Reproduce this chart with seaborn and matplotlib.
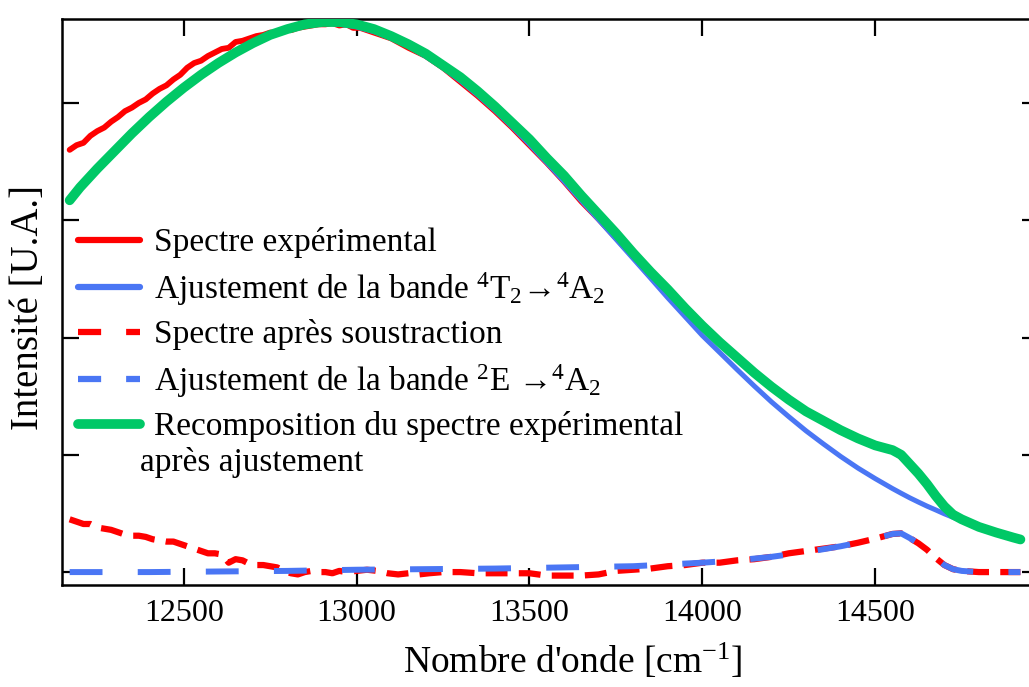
import numpy as np
import matplotlib
matplotlib.use('Agg')
import matplotlib.pyplot as plt
from matplotlib.lines import Line2D
import seaborn as sns

# ajustement de la bande 4T2 -> 4A2 (et recomposition), pas de 50 cm-1
x_fit = [12170, 12200, 12250, 12300, 12350, 12400, 12450, 12500, 12550, 12600,
         12650, 12700, 12750, 12800, 12850, 12900, 12950, 13000, 13050, 13100,
         13150, 13200, 13250, 13300, 13350, 13400, 13450, 13500, 13550, 13600,
         13650, 13700, 13750, 13800, 13850, 13900, 13950, 14000, 14050, 14100,
         14150, 14200, 14250, 14300, 14350, 14400, 14450, 14500, 14550, 14575,
         14600, 14625, 14650, 14675, 14700, 14725, 14750, 14800, 14850, 14900, 14920]
y_t2 = [3.17, 3.28, 3.44, 3.59, 3.74, 3.88, 4.01, 4.13, 4.24, 4.34,
        4.43, 4.51, 4.57, 4.62, 4.66, 4.68, 4.672, 4.648, 4.608, 4.552,
        4.482, 4.397, 4.299, 4.189, 4.068, 3.937, 3.796, 3.647, 3.491, 3.331,
        3.167, 3.004, 2.839, 2.673, 2.507, 2.339, 2.178, 2.017, 1.873, 1.728,
        1.587, 1.451, 1.325, 1.204, 1.093, 0.986, 0.887, 0.797, 0.712, 0.672,
        0.633, 0.597, 0.562, 0.53, 0.497, 0.467, 0.438, 0.385, 0.337, 0.294, 0.278]
y_recomp = [3.17, 3.28, 3.44, 3.59, 3.74, 3.88, 4.01, 4.13, 4.24, 4.34,
            4.43, 4.51, 4.58, 4.63, 4.67, 4.69, 4.69, 4.67, 4.63, 4.57,
            4.50, 4.42, 4.32, 4.22, 4.10, 3.97, 3.83, 3.69, 3.53, 3.38,
            3.21, 3.05, 2.89, 2.72, 2.56, 2.41, 2.25, 2.10, 1.96, 1.83,
            1.70, 1.58, 1.47, 1.37, 1.29, 1.21, 1.14, 1.08, 1.04, 1.00,
            0.92, 0.84, 0.75, 0.65, 0.56, 0.49, 0.45, 0.385, 0.337, 0.294, 0.278]

# spectre experimental
x_exp = [12170, 12190, 12210, 12230, 12250, 12270, 12290, 12310, 12330, 12350,
         12370, 12390, 12410, 12430, 12450, 12470, 12490, 12510, 12530, 12550,
         12570, 12590, 12610, 12630, 12650, 12670, 12690, 12710, 12730, 12750,
         12770, 12790, 12810, 12830, 12850, 12870, 12890, 12910, 12930, 12950,
         12970, 12990, 13010, 13050, 13100, 13150, 13200, 13250, 13300, 13350,
         13400, 13450, 13500, 13550, 13600, 13650, 13700, 13750, 13800, 13850,
         13900, 13950, 14000, 14050, 14100, 14150, 14200, 14250, 14300, 14350,
         14400, 14450, 14500, 14550, 14600, 14650, 14700, 14750, 14800, 14850,
         14900, 14920]
y_exp = [3.60, 3.64, 3.66, 3.72, 3.76, 3.79, 3.84, 3.88, 3.93, 3.96,
         4.00, 4.03, 4.08, 4.12, 4.15, 4.20, 4.24, 4.30, 4.34, 4.36,
         4.40, 4.43, 4.46, 4.47, 4.52, 4.53, 4.55, 4.57, 4.58, 4.60,
         4.60, 4.63, 4.62, 4.64, 4.65, 4.66, 4.67, 4.67, 4.68, 4.66,
         4.67, 4.64, 4.64, 4.60, 4.55, 4.47, 4.40, 4.30, 4.18, 4.06,
         3.93, 3.79, 3.64, 3.49, 3.33, 3.16, 3.01, 2.85, 2.69, 2.52,
         2.37, 2.21, 2.10, 1.96, 1.82, 1.70, 1.58, 1.46, 1.37, 1.29,
         1.21, 1.14, 1.08, 1.04, 0.92, 0.75, 0.56, 0.45, 0.39, 0.34,
         0.29, 0.28]

# spectre apres soustraction
x_sub = [12170, 12190, 12210, 12230, 12250, 12270, 12290, 12310, 12330, 12350,
         12370, 12390, 12410, 12430, 12450, 12470, 12490, 12510, 12530, 12550,
         12570, 12590, 12610, 12630, 12650, 12670, 12690, 12710, 12730, 12750,
         12770, 12790, 12810, 12830, 12850, 12870, 12890, 12910, 12930, 12950,
         12970, 13000, 13030, 13060, 13090, 13120, 13150, 13180, 13210, 13250,
         13300, 13350, 13400, 13450, 13500, 13550, 13600, 13650, 13700, 13750,
         13800, 13850, 13900, 13950, 14000, 14050, 14100, 14150, 14200, 14250,
         14300, 14350, 14400, 14450, 14500, 14550, 14575, 14600, 14625, 14650,
         14675, 14700, 14725, 14750, 14800, 14850, 14900, 14920]
y_sub = [0.45, 0.43, 0.41, 0.41, 0.38, 0.37, 0.36, 0.34, 0.32, 0.31,
         0.31, 0.30, 0.28, 0.27, 0.26, 0.26, 0.24, 0.22, 0.20, 0.18,
         0.16, 0.16, 0.15, 0.08, 0.11, 0.10, 0.07, 0.06, 0.06, 0.05,
         0.04, 0.01, -0.01, -0.02, 0.0, 0.01, 0.0, 0.0, -0.01, 0.01,
         0.0, 0.01, 0.02, 0.01, -0.01, -0.02, -0.01, -0.02, -0.01, 0.0,
         0.0, -0.01, -0.01, -0.01, -0.01, -0.03, -0.03, -0.03, -0.02, 0.01,
         0.02, 0.03, 0.05, 0.06, 0.08, 0.08, 0.10, 0.11, 0.13, 0.16,
         0.18, 0.20, 0.22, 0.25, 0.285, 0.325, 0.33, 0.29, 0.245, 0.19,
         0.12, 0.06, 0.025, 0.01, 0.0, 0.0, 0.0, 0.0]

# ajustement de la bande 2E -> 4A2
x_e = [12170, 12400, 12600, 12800, 13000, 13200, 13400, 13600, 13800, 13900,
       14000, 14100, 14200, 14300, 14350, 14400, 14450, 14500, 14525, 14550,
       14575, 14600, 14625, 14650, 14675, 14700, 14725, 14750, 14775, 14800,
       14850, 14920]
y_e = [0.0, 0.0, 0.005, 0.01, 0.02, 0.025, 0.03, 0.04, 0.05, 0.065,
       0.08, 0.10, 0.13, 0.17, 0.195, 0.22, 0.25, 0.285, 0.305, 0.325,
       0.33, 0.29, 0.245, 0.19, 0.12, 0.06, 0.025, 0.01, 0.005, 0.0,
       0.0, 0.0]

xticks = [12500, 13000, 13500, 14000, 14500]
labels = ['Spectre expérimental',
          r'Ajustement de la bande $^{4}$T$_{2}$→$^{4}$A$_{2}$',
          'Spectre après soustraction',
          r'Ajustement de la bande $^{2}$E →$^{4}$A$_{2}$',
          'Recomposition du spectre expérimental']

RED = '#FF0000'
BLUE = '#4A76F4'
GREEN = '#00C866'

sns.set_style('white')
plt.rcParams['font.family'] = ['Liberation Serif', 'DejaVu Serif']
plt.rcParams['mathtext.fontset'] = 'custom'
plt.rcParams['mathtext.rm'] = 'Liberation Serif'
plt.rcParams['mathtext.default'] = 'regular'
plt.rcParams['text.color'] = 'black'
plt.rcParams['axes.labelcolor'] = 'black'

fig = plt.figure(figsize=(10.29, 6.87), dpi=100)
ax = fig.add_axes([0.0603, 0.1485, 0.9495, 0.8239])

sns.lineplot(x=x_exp, y=y_exp, color=RED, linewidth=4.2, ax=ax, zorder=2)
sns.lineplot(x=x_fit, y=y_t2, color=BLUE, linewidth=3.6, ax=ax, zorder=3)
sns.lineplot(x=x_fit, y=y_recomp, color=GREEN, linewidth=7, ax=ax, zorder=4)
sns.lineplot(x=x_sub, y=y_sub, color=RED, linewidth=4.5, linestyle=(0, (3.5, 1.8)), ax=ax, zorder=2)
sns.lineplot(x=x_e, y=y_e, color=BLUE, linewidth=4.3, linestyle=(0, (5.5, 5.9)), ax=ax, zorder=3)

ax.set_xlim(12148, 14974)
ax.set_ylim(-0.11, 4.716)
ax.set_xticks(xticks)
ax.set_xticklabels([str(v) for v in xticks])
ax.set_yticks([0, 1, 2, 3, 4])
ax.tick_params(axis='both', direction='in', length=12, width=1.6,
               top=True, right=True, bottom=True, left=True,
               labelsize=23, labelleft=False, pad=10, color='black', labelcolor='black')
for s in ax.spines.values():
    s.set_visible(True)
    s.set_color('black')
    s.set_linewidth(1.8)

ax.set_xlabel("Nombre d'onde [cm$^{-1}$]", fontsize=27)
ax.set_ylabel('Intensité [U.A.]', fontsize=28)
ax.xaxis.set_label_coords(0.522, -0.1)
ax.yaxis.set_label_coords(-0.015, 0.49)

handles = [Line2D([], [], color=RED, lw=4.5),
           Line2D([], [], color=BLUE, lw=4.5),
           Line2D([], [], color=RED, lw=4.5, ls=(0, (3.7, 4.0))),
           Line2D([], [], color=BLUE, lw=4.5, ls=(0, (3.7, 4.0))),
           Line2D([], [], color=GREEN, lw=7)]
ax.legend(handles, labels, loc='center left', bbox_to_anchor=(0.0164, 0.442), frameon=False,
          fontsize=24, handlelength=1.85, handletextpad=0.42, labelspacing=0.35,
          borderpad=0, borderaxespad=0)
ax.text(0.0798, 0.217, 'après ajustement', transform=ax.transAxes, fontsize=24,
        ha='left', va='center')

fig.savefig('out.png', dpi=100)
